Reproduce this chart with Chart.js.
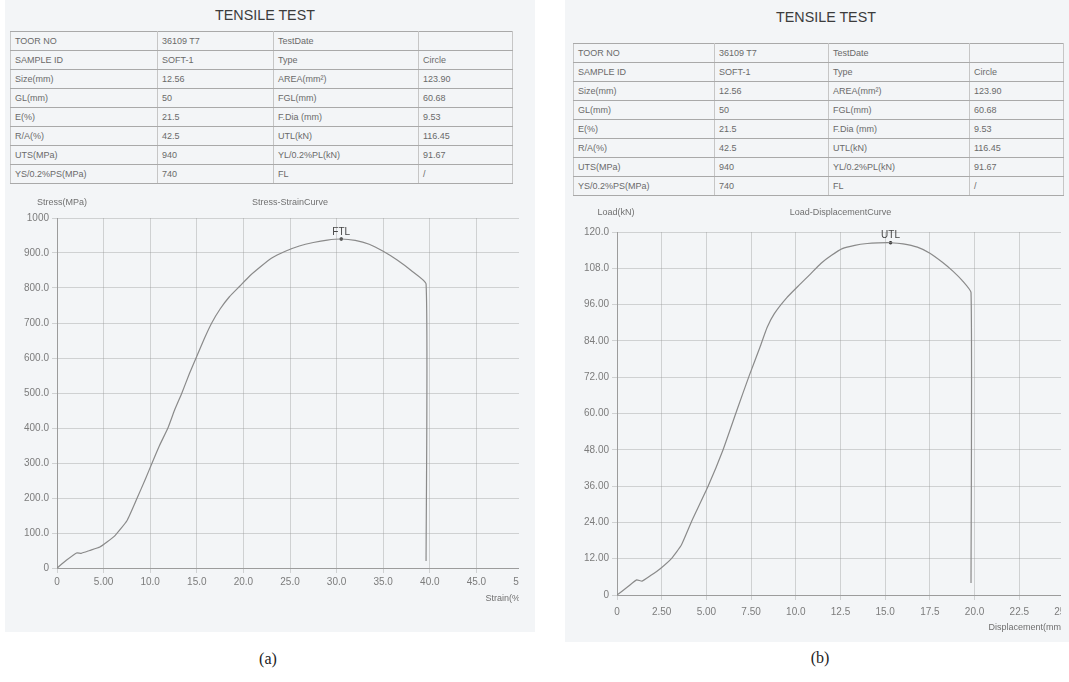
<!DOCTYPE html>
<html><head><meta charset="utf-8">
<script src="https://cdn.jsdelivr.net/npm/chart.js@4.4.1/dist/chart.umd.min.js"></script>
<style>
html,body{margin:0;padding:0;background:#fff;}
body{width:1069px;height:682px;position:relative;overflow:hidden;font-family:"Liberation Sans",Arial,sans-serif;}
.paper{position:absolute;background:#f3f5f7;}
.ttl{position:absolute;font-size:14.3px;color:#3c3c3c;transform:translateX(-50%);white-space:nowrap;line-height:1;}
table{position:absolute;border-collapse:collapse;table-layout:fixed;font-size:9px;color:#6a6a6a;}
tr{height:19px;}
td{border-top:1px solid #a9a9a9;border-bottom:1px solid #a9a9a9;border-left:1px solid #c6c6c6;border-right:1px solid #c6c6c6;padding:0 0 0 4px;white-space:nowrap;overflow:hidden;}
.clip{position:absolute;overflow:hidden;}
.cap{position:absolute;font-family:"Liberation Serif",serif;font-size:16px;color:#222;transform:translateX(-50%);line-height:1;white-space:nowrap;}
</style></head>
<body>
<div class="paper" style="left:5px;top:0;width:530px;height:632px"></div>
<div class="paper" style="left:565px;top:0;width:504px;height:642px"></div>

<div class="ttl" style="left:265px;top:8px">TENSILE TEST</div>
<div class="ttl" style="left:826px;top:10px">TENSILE TEST</div>

<table id="tabA" style="left:10px;top:31px;width:502px">
<colgroup><col style="width:147px"><col style="width:116px"><col style="width:145px"><col style="width:94px"></colgroup>
<tbody></tbody></table>
<table id="tabB" style="left:573px;top:43px;width:490px">
<colgroup><col style="width:141px"><col style="width:114px"><col style="width:141px"><col style="width:94px"></colgroup>
<tbody></tbody></table>

<div class="clip" style="left:0;top:190px;width:519px;height:440px"><canvas id="ca" width="560" height="416"></canvas></div>
<div class="clip" style="left:565px;top:195px;width:496px;height:447px"><canvas id="cb" width="540" height="440"></canvas></div>

<div class="cap" style="left:268px;top:651px">(a)</div>
<div class="cap" style="left:820px;top:650px">(b)</div>

<script>
// ---------- table contents ----------
const tableLabels1 = ['TOOR NO','SAMPLE ID','Size(mm)','GL(mm)','E(%)','R/A(%)','UTS(MPa)','YS/0.2%PS(MPa)'];
const tableValues1 = ['36109 T7','SOFT-1','12.56','50','21.5','42.5','940','740'];
const tableLabels2 = ['TestDate','Type','AREA(mm²)','FGL(mm)','F.Dia (mm)','UTL(kN)','YL/0.2%PL(kN)','FL'];
const tableValues2 = ['','Circle','123.90','60.68','9.53','116.45','91.67','/'];

// ---------- (a) Stress-Strain curve ----------
const strainA = [0,1.0,2.1,2.6,3.5,4.6,5.4,6.2,7.5,8.6,9.5,10.2,11.0,11.9,12.6,13.4,14.2,15.0,15.8,16.6,17.5,18.5,19.6,20.7,21.8,23.0,24.5,26.0,27.5,29.0,30.5,32.0,33.5,35.0,36.5,38.0,39.6,39.6];
const stressA = [0,22,43,42,50,60,75,92,135,200,255,300,350,400,450,500,555,605,655,700,740,775,805,835,860,885,905,920,930,937,940,936,925,905,880,850,812,20];
const peakA = {x:30.5, y:940, label:'FTL'};
const xTicksA = ['0','5.00','10.0','15.0','20.0','25.0','30.0','35.0','40.0','45.0','50.0'];
const yTicksA = ['0','100.0','200.0','300.0','400.0','500.0','600.0','700.0','800.0','900.0','1000'];

// ---------- (b) Load-Displacement curve ----------
const dispB = [0,0.6,1.1,1.4,1.9,2.4,3.07,3.6,4.2,5.1,5.9,6.7,7.4,8.0,8.4,8.8,9.5,10.2,10.8,11.4,12.0,12.6,13.3,14.0,14.6,15.3,16.0,16.8,17.5,18.2,18.8,19.3,19.8,19.8];
const loadB = [0,2.7,5.0,4.6,6.5,8.6,12.2,16.5,24.7,36,47.5,61,72.6,82,88.5,93,98.3,102.5,106,109.6,112.3,114.5,115.6,116.2,116.4,116.45,116.1,115,113,110,107,104,100,4];
const peakB = {x:15.3, y:116.45, label:'UTL'};
const xTicksB = ['0','2.50','5.00','7.50','10.0','12.5','15.0','17.5','20.0','22.5','25.0'];
const yTicksB = ['0','12.00','24.00','36.00','48.00','60.00','72.00','84.00','96.00','108.0','120.0'];

// ---------- build tables ----------
function fillTable(id){
  const tb = document.querySelector('#'+id+' tbody');
  for(let i=0;i<tableLabels1.length;i++){
    const tr = document.createElement('tr');
    [tableLabels1[i],tableValues1[i],tableLabels2[i],tableValues2[i]].forEach(t=>{
      const td=document.createElement('td'); td.textContent=t; tr.appendChild(td);
    });
    tb.appendChild(tr);
  }
}
fillTable('tabA'); fillTable('tabB');

// ---------- plugins ----------
const FONT = '"Liberation Sans", Arial, sans-serif';
const headerPlugin = {
  id:'headers',
  afterDraw(chart, args, o){
    const {ctx, chartArea:ca} = chart;
    ctx.save();
    ctx.font = '9px ' + FONT;
    ctx.fillStyle = '#707070';
    ctx.textBaseline = 'middle';
    ctx.textAlign = 'center';
    ctx.fillText(o.yTitle, o.yTitleX, ca.top - o.gap);
    ctx.fillText(o.title, (ca.left+ca.right)/2, ca.top - o.gap);
    ctx.restore();
  }
};
const peakPlugin = {
  id:'peakLabel',
  afterDatasetsDraw(chart){
    const pt = chart.getDatasetMeta(1).data[0];
    const ctx = chart.ctx;
    ctx.save();
    ctx.font = '10px ' + FONT;
    ctx.fillStyle = '#454545';
    ctx.textAlign = 'center';
    ctx.textBaseline = 'bottom';
    ctx.fillText(chart.data.datasets[1].label, pt.x, pt.y - 2);
    ctx.restore();
  }
};

function makeChart(id, xs, ys, peak, cfg){
  const pts = xs.map((x,i)=>({x, y: ys[i]}));
  const gridC = 'rgba(150,150,150,0.38)';
  return new Chart(document.getElementById(id), {
    type:'scatter',
    data:{datasets:[
      {data:pts, showLine:true, borderColor:'#8a8a8a', borderWidth:1.2, pointRadius:0, tension:0.15},
      {data:[{x:peak.x,y:peak.y}], label:peak.label, pointRadius:1.8, pointBackgroundColor:'#2a2a2a', pointBorderWidth:0, showLine:false}
    ]},
    options:{
      responsive:false, animation:false,
      layout:{padding:cfg.padding},
      plugins:{legend:{display:false}, tooltip:{enabled:false},
        headers:{yTitle:cfg.yTitle, yTitleX:cfg.yTitleX, title:cfg.title, gap:cfg.gap}},
      scales:{
        x:{type:'linear', min:0, max:cfg.xMax,
          afterFit:s=>{s.height=cfg.xH;},
          ticks:{stepSize:cfg.xStep, autoSkip:false, maxRotation:0, padding:cfg.tickPadX,
            color:'#7c7c7c', font:{family:FONT,size:10},
            callback:(v,i)=>cfg.xTicks[i]},
          grid:{color:gridC, lineWidth:1, tickLength:5, tickColor:gridC},
          border:{display:true, color:'#9c9c9c', width:1},
          title:{display:true, text:cfg.xTitle, align:'end', color:'#6f6f6f',
            font:{family:FONT,size:9}, padding:{top:0,bottom:2}}
        },
        y:{type:'linear', min:0, max:cfg.yMax,
          afterFit:s=>{s.width=cfg.yW;},
          ticks:{stepSize:cfg.yStep, autoSkip:false, padding:3,
            color:'#7c7c7c', font:{family:FONT,size:10},
            callback:(v,i)=>cfg.yTicks[i]},
          grid:{color:gridC, lineWidth:1, tickLength:5, tickColor:gridC},
          border:{display:true, color:'#9c9c9c', width:1}
        }
      }
    },
    plugins:[headerPlugin, peakPlugin]
  });
}

makeChart('ca', strainA, stressA, peakA, {
  padding:{left:0,right:37,top:28,bottom:0}, xH:38, yW:57,
  xMax:50, xStep:5, yMax:1000, yStep:100, xTicks:xTicksA, yTicks:yTicksA,
  xTitle:'Strain(%)', yTitle:'Stress(MPa)', yTitleX:62, title:'Stress-StrainCurve', gap:15, tickPadX:3
});
makeChart('cb', dispB, loadB, peakB, {
  padding:{left:0,right:41,top:37,bottom:0}, xH:40, yW:52,
  xMax:25, xStep:2.5, yMax:120, yStep:12, xTicks:xTicksB, yTicks:yTicksB,
  xTitle:'Displacement(mm)', yTitle:'Load(kN)', yTitleX:51, title:'Load-DisplacementCurve', gap:19, tickPadX:6
});
</script>
</body></html>
